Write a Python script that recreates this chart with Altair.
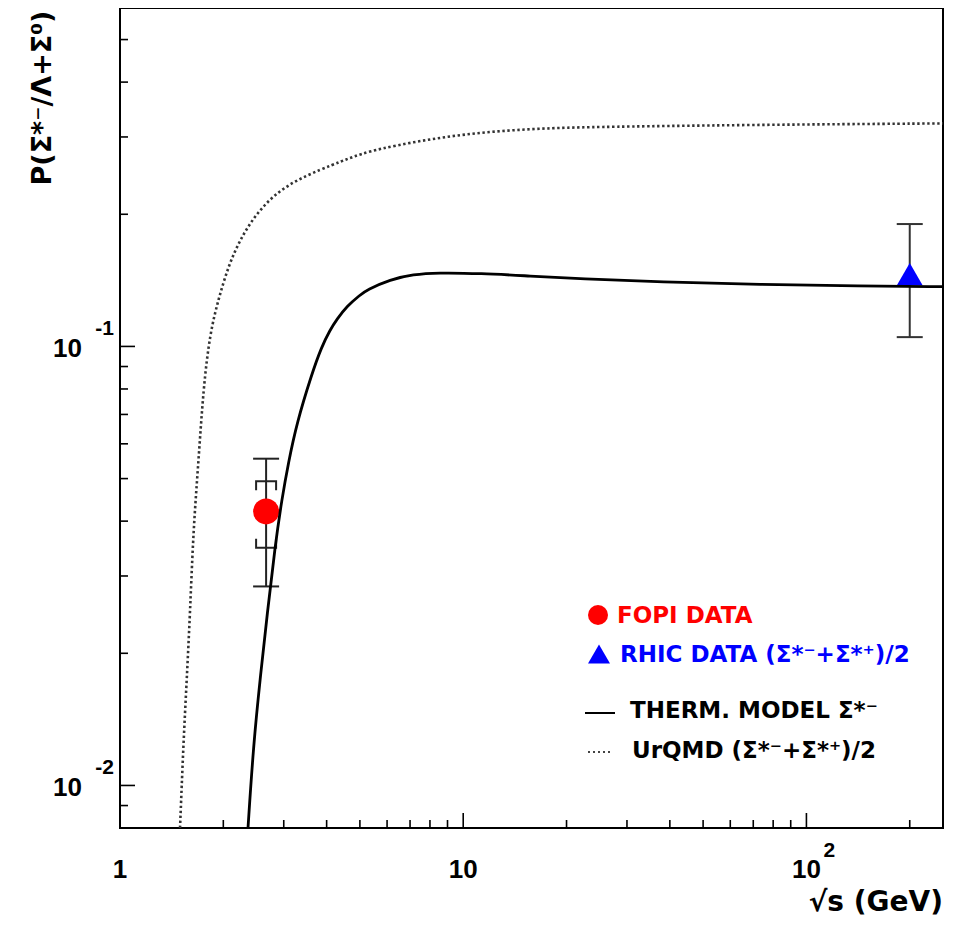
import altair as alt
import pandas as pd

# ---------------- data ----------------
X_MIN, X_MAX = 1, 250
Y_MIN, Y_MAX = 0.008, 0.59

therm_x = [2.36, 2.447, 2.559, 2.688, 2.830, 2.961, 3.095, 3.275, 3.62, 3.86, 4.10,
           4.283, 4.580, 5.008, 5.239, 6.126, 7.163, 8.382, 11.21, 15.68, 21.93,
           37.53, 73.4, 143.7, 250]
therm_y = [0.008, 0.01229, 0.01744, 0.02474, 0.03508, 0.04481, 0.05433, 0.0670, 0.0865,
           0.0995, 0.1093, 0.1152, 0.1235, 0.1310, 0.1345, 0.1421, 0.1459, 0.1472,
           0.1467, 0.1446, 0.1427, 0.1401, 0.1384, 0.1372, 0.1368]

urqmd_x = [1.496, 1.529, 1.565, 1.600, 1.636, 1.692, 1.750, 1.830, 1.935, 2.069, 2.238,
           2.503, 2.928, 3.502, 4.187, 4.580, 5.008, 5.73, 7.163, 8.964, 11.21, 14.02,
           17.54, 21.93, 68.7, 250]
urqmd_y = [0.008, 0.01229, 0.01744, 0.02474, 0.0383, 0.05433, 0.0806, 0.1074, 0.1280,
           0.1524, 0.1753, 0.2017, 0.2279, 0.2455, 0.2598, 0.2670, 0.2740, 0.2821,
           0.2920, 0.3004, 0.3068, 0.3110, 0.3138, 0.3159, 0.3197, 0.3221]

fopi_x = [2.665]
fopi_y = [0.0421]
fopi_stat_lo = [0.0284]
fopi_stat_hi = [0.0555]
fopi_sys_lo = [0.0348]
fopi_sys_hi = [0.0493]

rhic_x = [200]
rhic_y = [0.146]
rhic_lo = [0.105]
rhic_hi = [0.190]

x_major = [1, 10, 100]
x_minor = [2, 3, 4, 5, 6, 7, 8, 9, 20, 30, 40, 50, 60, 70, 80, 90, 200]
y_major = [0.01, 0.1]
y_minor = [0.009, 0.02, 0.03, 0.04, 0.05, 0.06, 0.07, 0.08, 0.09, 0.2, 0.3, 0.4, 0.5]

x_tick_vals = [1, 10, 100]
x_tick_base = ["1", "10", "10"]
x_tick_exp = ["", "", "2"]
y_tick_vals = [0.01, 0.1]
y_tick_base = ["10", "10"]
y_tick_exp = ["-2", "-1"]

legend_labels = ["FOPI DATA", "RHIC DATA (Σ*⁻+Σ*⁺)/2", "THERM. MODEL Σ*⁻", "UrQMD (Σ*⁻+Σ*⁺)/2"]
x_title = "√s (GeV)"
y_title = "P(Σ*⁻/Λ+Σ⁰)"

# ---------------- chart ----------------
W, H = 823, 820
TXT = "DejaVu Sans"
NUM = "Liberation Sans"

xs = alt.Scale(type="log", domain=[X_MIN, X_MAX], nice=False)
ys = alt.Scale(type="log", domain=[Y_MIN, Y_MAX], nice=False)


def X(f):
    return alt.X(f, type="quantitative", scale=xs, axis=None)


def Y(f):
    return alt.Y(f, type="quantitative", scale=ys, axis=None)


therm = pd.DataFrame({"x": therm_x, "y": therm_y})
urqmd = pd.DataFrame({"x": urqmd_x, "y": urqmd_y})
fopi = pd.DataFrame({"x": fopi_x, "y": fopi_y, "lo": fopi_stat_lo, "hi": fopi_stat_hi,
                     "slo": fopi_sys_lo, "shi": fopi_sys_hi})
rhic = pd.DataFrame({"x": rhic_x, "y": rhic_y, "lo": rhic_lo, "hi": rhic_hi})

ERR = "#222222"

layers = []

# ticks (inward), anchored at the axis minimum through the scales
xmaj = pd.DataFrame({"v": x_major, "edge": [Y_MIN] * len(x_major)})
xmin_ = pd.DataFrame({"v": x_minor, "edge": [Y_MIN] * len(x_minor)})
ymaj = pd.DataFrame({"v": y_major, "edge": [X_MIN] * len(y_major)})
ymin_ = pd.DataFrame({"v": y_minor, "edge": [X_MIN] * len(y_minor)})

layers.append(alt.Chart(xmaj).mark_rule(color="#000", strokeWidth=1.6, y2Offset=-15).encode(
    x=X("v"), y=Y("edge"), y2="edge"))
layers.append(alt.Chart(xmin_).mark_rule(color="#000", strokeWidth=1.6, y2Offset=-8).encode(
    x=X("v"), y=Y("edge"), y2="edge"))
layers.append(alt.Chart(ymaj).mark_rule(color="#000", strokeWidth=1.6, x2Offset=15).encode(
    y=Y("v"), x=X("edge"), x2="edge"))
layers.append(alt.Chart(ymin_).mark_rule(color="#000", strokeWidth=1.6, x2Offset=8).encode(
    y=Y("v"), x=X("edge"), x2="edge"))

# tick labels
xl = pd.DataFrame({"v": x_tick_vals, "b": x_tick_base, "e": x_tick_exp,
                   "edge": [Y_MIN] * len(x_tick_vals)})
layers.append(alt.Chart(xl).mark_text(
    font=NUM, fontSize=26, fontWeight="bold", color="#000", align="center",
    baseline="alphabetic", dy=50).encode(x=X("v"), y=Y("edge"), text="b:N"))
layers.append(alt.Chart(xl).mark_text(
    font=NUM, fontSize=21, fontWeight="bold", color="#000", align="left",
    baseline="alphabetic", dx=17, dy=29).encode(x=X("v"), y=Y("edge"), text="e:N"))
yl = pd.DataFrame({"v": y_tick_vals, "b": y_tick_base, "e": y_tick_exp,
                   "edge": [X_MIN] * len(y_tick_vals)})
layers.append(alt.Chart(yl).mark_text(
    font=NUM, fontSize=26, fontWeight="bold", color="#000", align="right",
    baseline="alphabetic", dx=-38, dy=11).encode(y=Y("v"), x=X("edge"), text="b:N"))
layers.append(alt.Chart(yl).mark_text(
    font=NUM, fontSize=21, fontWeight="bold", color="#000", align="right",
    baseline="alphabetic", dx=-6, dy=-11).encode(y=Y("v"), x=X("edge"), text="e:N"))

# error bars
layers.append(alt.Chart(fopi).mark_rule(color=ERR, strokeWidth=2).encode(
    x=X("x"), y=Y("lo"), y2="hi"))
layers.append(alt.Chart(fopi).mark_tick(color=ERR, orient="horizontal", size=26,
                                        thickness=2, opacity=1).encode(x=X("x"), y=Y("lo")))
layers.append(alt.Chart(fopi).mark_tick(color=ERR, orient="horizontal", size=26,
                                        thickness=2, opacity=1).encode(x=X("x"), y=Y("hi")))
layers.append(alt.Chart(fopi).mark_point(
    shape="M-1,0.9L-1,0L1,0L1,0.9", filled=False, stroke=ERR, strokeWidth=2,
    size=400, opacity=1).encode(x=X("x"), y=Y("shi")))
layers.append(alt.Chart(fopi).mark_point(
    shape="M-1,-0.9L-1,0L1,0L1,-0.9", filled=False, stroke=ERR, strokeWidth=2,
    size=400, opacity=1).encode(x=X("x"), y=Y("slo")))

layers.append(alt.Chart(rhic).mark_rule(color="#333", strokeWidth=2).encode(
    x=X("x"), y=Y("lo"), y2="hi"))
layers.append(alt.Chart(rhic).mark_tick(color="#333", orient="horizontal", size=26,
                                        thickness=2, opacity=1).encode(x=X("x"), y=Y("lo")))
layers.append(alt.Chart(rhic).mark_tick(color="#333", orient="horizontal", size=26,
                                        thickness=2, opacity=1).encode(x=X("x"), y=Y("hi")))

# markers
layers.append(alt.Chart(fopi).mark_point(shape="circle", filled=True, color="#ff0000",
                                         size=676, opacity=1).encode(x=X("x"), y=Y("y")))
layers.append(alt.Chart(rhic).mark_point(shape="triangle-up", filled=True, color="#0000ff",
                                         size=676, opacity=1).encode(x=X("x"), y=Y("y")))

# curves
layers.append(alt.Chart(urqmd).mark_line(color="#333", strokeWidth=2.6, strokeDash=[2.4, 2.6],
                                         interpolate="basis", clip=True).encode(
    x=X("x"), y=Y("y")))
layers.append(alt.Chart(therm).mark_line(color="#000", strokeWidth=2.8,
                                         interpolate="basis", clip=True).encode(
    x=X("x"), y=Y("y")))

# legend
one = pd.DataFrame({"k": [0]})
LF = dict(font=TXT, fontSize=23, fontWeight="bold", align="left", baseline="alphabetic")
layers.append(alt.Chart(one).mark_point(shape="circle", filled=True, color="#ff0000",
                                        size=400, opacity=1).encode(
    x=alt.value(478), y=alt.value(607)))
layers.append(alt.Chart(one).mark_text(color="#ff0000", **LF).encode(
    x=alt.value(497), y=alt.value(615), text=alt.value(legend_labels[0])))
layers.append(alt.Chart(one).mark_point(shape="triangle-up", filled=True, color="#0000ff",
                                        size=484, opacity=1).encode(
    x=alt.value(479), y=alt.value(646)))
layers.append(alt.Chart(one).mark_text(color="#0000ff", **LF).encode(
    x=alt.value(500), y=alt.value(654), text=alt.value(legend_labels[1])))
layers.append(alt.Chart(one).mark_rule(color="#000", strokeWidth=2).encode(
    x=alt.value(465), x2=alt.value(495), y=alt.value(705)))
layers.append(alt.Chart(one).mark_text(color="#000", **LF).encode(
    x=alt.value(510), y=alt.value(710), text=alt.value(legend_labels[2])))
layers.append(alt.Chart(one).mark_rule(color="#444", strokeWidth=2, strokeDash=[2, 3]).encode(
    x=alt.value(468), x2=alt.value(492), y=alt.value(744)))
layers.append(alt.Chart(one).mark_text(color="#000", **LF).encode(
    x=alt.value(512), y=alt.value(750), text=alt.value(legend_labels[3])))

# titles
layers.append(alt.Chart(one).mark_text(font=TXT, fontSize=28, fontWeight="bold", color="#000",
                                       align="right", baseline="alphabetic").encode(
    x=alt.value(W), y=alt.value(903), text=alt.value(x_title)))
layers.append(alt.Chart(one).mark_text(font=TXT, fontSize=27, fontWeight="bold", color="#000",
                                       align="center", baseline="alphabetic", angle=270).encode(
    x=alt.value(-69), y=alt.value(90), text=alt.value(y_title)))

chart = alt.layer(*layers).properties(
    width=W, height=H,
    autosize=alt.AutoSizeParams(type="none"),
    padding={"left": 112, "top": 0, "right": 13, "bottom": 89},
    background="white",
).configure_view(stroke="#000", strokeWidth=2)

chart.save("out.html", embed_options={"renderer": "svg", "actions": False})
